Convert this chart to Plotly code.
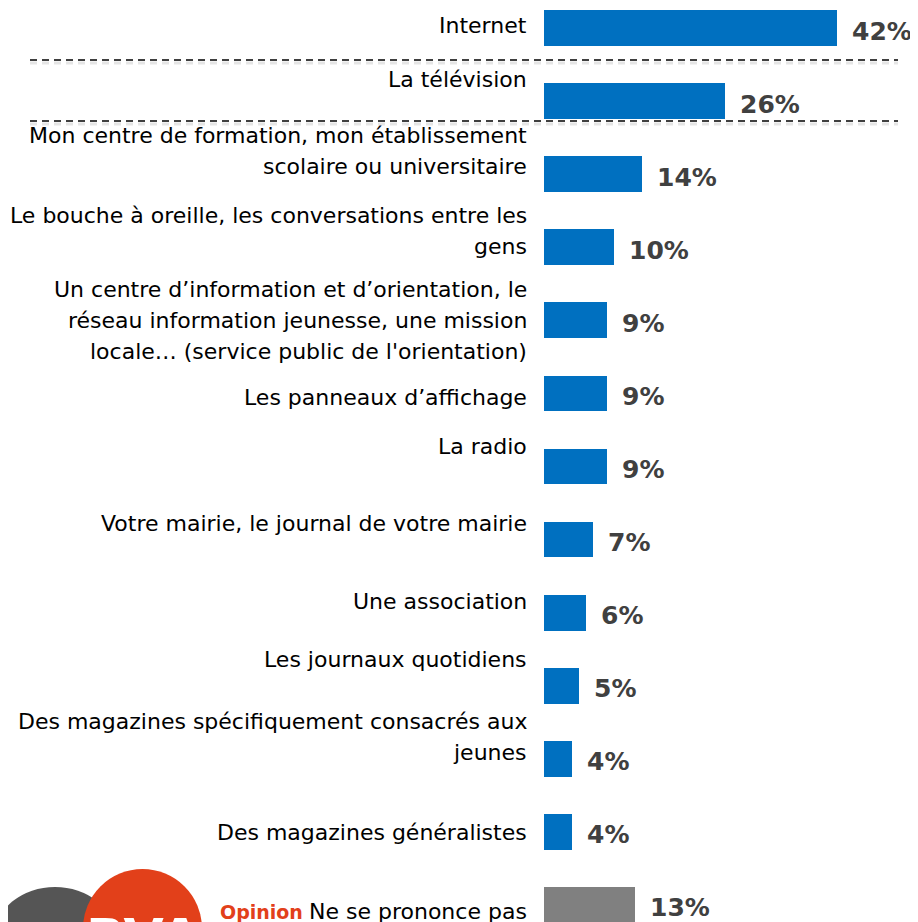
import plotly.graph_objects as go

categories = [
    "Internet",
    "La télévision",
    "Mon centre de formation, mon établissement<br>scolaire ou universitaire",
    "Le bouche à oreille, les conversations entre les<br>gens",
    "Un centre d’information et d’orientation, le<br>réseau information jeunesse, une mission<br>locale… (service public de l'orientation)",
    "Les panneaux d’affichage",
    "La radio",
    "Votre mairie, le journal de votre mairie",
    "Une association",
    "Les journaux quotidiens",
    "Des magazines spécifiquement consacrés aux<br>jeunes",
    "Des magazines généralistes",
    "Ne se prononce pas",
]
values = [42, 26, 14, 10, 9, 9, 9, 7, 6, 5, 4, 4, 13]
value_labels = [f"{v}%" for v in values]

# layout/style helpers (pixels)
label_offsets = [-3, -22, -23, -16, 0, 4, -20, -16, -11, -26, -22, 1, 7]
BLUE = "#0070C0"
GREY = "#808080"
colors = [BLUE] * (len(values) - 1) + [GREY]

OFF = 8  # page body margin
W, H = 918 - OFF, 922 - OFF
PX_PER_PCT = 293 / 42.0
X0 = 544 - OFF
PX_PER_CAT = 73.08
Y0 = 28 - OFF

idx = list(range(len(values)))

fig = go.Figure()
fig.add_trace(go.Bar(
    x=values, y=idx, orientation="h",
    marker=dict(color=colors, line=dict(width=0)),
    width=0.49, hoverinfo="skip",
))

annotations = []
FONT = "DejaVu Sans"
for i, (cat, off) in enumerate(zip(categories, label_offsets)):
    lines = cat.split("<br>")
    n = len(lines)
    for j, ln in enumerate(lines):
        dy = off + (j - (n - 1) / 2) * 31
        annotations.append(dict(
            x=0, y=i, xref="x", yref="y", text=ln, showarrow=False,
            xanchor="right", yanchor="middle", xshift=-15, yshift=-dy,
            font=dict(family=FONT, size=22, color="#000000"),
        ))
for i, (v, t) in enumerate(zip(values, value_labels)):
    annotations.append(dict(
        x=v, y=i, xref="x", yref="y", text=f"<b>{t}</b>", showarrow=False,
        xanchor="left", yanchor="middle", xshift=13, yshift=-3,
        font=dict(family=FONT, size=25, color="#404040"),
    ))

def px(x):
    return (x - OFF) / W

def py(y):
    return 1 - (y - OFF) / H

shapes = []
for yline in (60, 121):
    shapes.append(dict(type="line", xref="paper", yref="paper",
                       x0=px(30), x1=px(898), y0=py(yline + 3), y1=py(yline + 3),
                       line=dict(color="rgba(0,0,0,0.10)", width=3, dash="7px,5px"), layer="below"))
    shapes.append(dict(type="line", xref="paper", yref="paper",
                       x0=px(30), x1=px(898), y0=py(yline), y1=py(yline),
                       line=dict(color="#000000", width=1.5, dash="7px,5px")))

# BVA logo
shapes.append(dict(type="circle", xref="paper", yref="paper",
                   x0=px(-5), x1=px(115), y0=py(887), y1=py(985),
                   fillcolor="#555555", line=dict(width=0)))
shapes.append(dict(type="circle", xref="paper", yref="paper",
                   x0=px(83), x1=px(202), y0=py(869), y1=py(988),
                   fillcolor="#E2401A", line=dict(width=0)))
annotations.append(dict(x=px(143), y=py(906), xref="paper", yref="paper",
                        text="<b>BVA</b>", showarrow=False, xanchor="center", yanchor="top",
                        font=dict(family=FONT, size=52, color="#FFFFFF")))
annotations.append(dict(x=px(305), y=py(912), xref="paper", yref="paper",
                        text="<b>Opinion</b>", showarrow=False, xanchor="right", yanchor="middle",
                        font=dict(family=FONT, size=19, color="#E2401A")))

fig.update_layout(
    width=W, height=H,
    margin=dict(l=0, r=0, t=0, b=0),
    paper_bgcolor="#FFFFFF", plot_bgcolor="#FFFFFF",
    showlegend=False,
    xaxis=dict(range=[-X0 / PX_PER_PCT, (W - X0) / PX_PER_PCT], visible=False, fixedrange=True),
    yaxis=dict(range=[(H - Y0) / PX_PER_CAT, -Y0 / PX_PER_CAT], visible=False, fixedrange=True),
    annotations=annotations,
    shapes=shapes,
    bargap=0,
)

fig.write_html("out.html")
